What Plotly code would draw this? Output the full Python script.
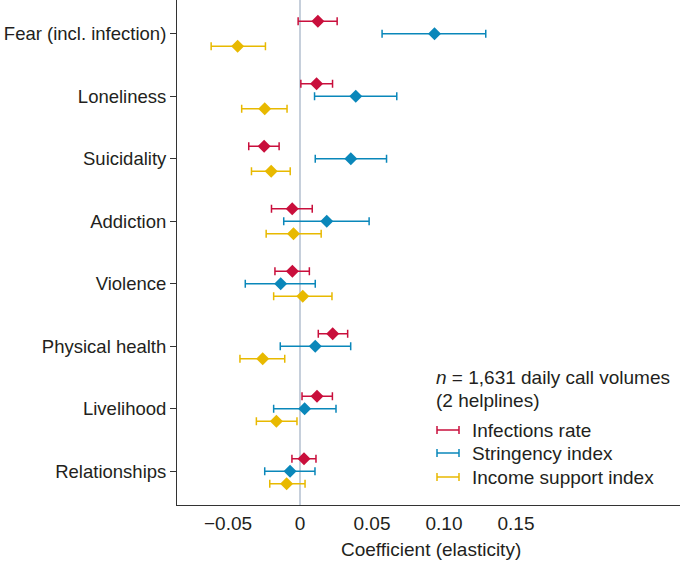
import plotly.graph_objects as go

categories = ["Fear (incl. infection)", "Loneliness", "Suicidality", "Addiction",
              "Violence", "Physical health", "Livelihood", "Relationships"]

series_names = ["Infections rate", "Stringency index", "Income support index"]

infections_est = [0.0124, 0.0115, -0.0249, -0.0054, -0.0053, 0.0227, 0.0118, 0.0028]
infections_lo = [-0.0013, 0.0006, -0.0356, -0.0198, -0.0174, 0.0127, 0.0014, -0.0056]
infections_hi = [0.0258, 0.0226, -0.0145, 0.0085, 0.0065, 0.0331, 0.0225, 0.0111]

stringency_est = [0.0934, 0.0387, 0.0353, 0.0186, -0.0134, 0.0106, 0.0032, -0.0069]
stringency_lo = [0.0570, 0.0101, 0.0106, -0.0113, -0.0380, -0.0137, -0.0183, -0.0245]
stringency_hi = [0.1290, 0.0672, 0.0601, 0.0480, 0.0106, 0.0352, 0.0250, 0.0104]

income_est = [-0.0433, -0.0245, -0.0200, -0.0045, 0.0019, -0.0259, -0.0164, -0.0093]
income_lo = [-0.0617, -0.0405, -0.0337, -0.0235, -0.0183, -0.0417, -0.0303, -0.0210]
income_hi = [-0.0240, -0.0090, -0.0068, 0.0147, 0.0222, -0.0106, -0.0021, 0.0035]

x_tick_vals = [-0.05, 0, 0.05, 0.10, 0.15]
x_tick_text = ["\u22120.05", "0", "0.05", "0.10", "0.15"]

colors = ["#c90f3c", "#0a87ba", "#e8b900"]
offsets = [-0.2, 0.0, 0.2]

W, H = 685, 565
ML, MR, MT, MB = 177, 5, 0, 60
PW, PH = W - ML - MR, H - MT - MB
FONT = "Liberation Sans, Arial, Helvetica, sans-serif"
TXT = "#231f20"
FS = 19
FSY = 18.5

fig = go.Figure()
data = [(infections_est, infections_lo, infections_hi),
        (stringency_est, stringency_lo, stringency_hi),
        (income_est, income_lo, income_hi)]
for name, (est, lo, hi), col, off in zip(series_names, data, colors, offsets):
    fig.add_trace(go.Scatter(
        x=est,
        y=[i + off for i in range(len(categories))],
        mode="markers",
        name=name,
        showlegend=False,
        hoverinfo="skip",
        marker=dict(symbol="diamond", size=10, color=col),
        error_x=dict(type="data", symmetric=False,
                     array=[h - e for h, e in zip(hi, est)],
                     arrayminus=[e - l for e, l in zip(est, lo)],
                     color=col, thickness=1.5, width=4),
    ))

x_left = (ML - 300) / 1440
x_right = (W - MR - 300) / 1440

fig.update_layout(
    width=W, height=H,
    margin=dict(l=ML, r=MR, t=MT, b=MB, pad=0),
    paper_bgcolor="white", plot_bgcolor="white",
    font=dict(family=FONT, size=FS, color=TXT),
    xaxis=dict(range=[x_left, x_right], tickvals=x_tick_vals, ticktext=x_tick_text,
               showgrid=False, zeroline=True, zerolinecolor="#c6cfdb", zerolinewidth=2,
               showline=True, linecolor="#333333", linewidth=1, automargin=False,
               ticks="outside", ticklen=1, tickcolor="rgba(0,0,0,0)",
               tickfont=dict(size=FS, color=TXT)),
    yaxis=dict(range=[7.54, -0.54], tickvals=list(range(len(categories))),
               ticktext=categories, showgrid=False, zeroline=False, automargin=False,
               showline=True, linecolor="#333333", linewidth=1,
               ticks="outside", ticklen=6, tickcolor="#333333",
               tickfont=dict(size=FSY, color=TXT)),
)

def px(xp):
    return (xp - ML) / PW

def py(yp):
    return (H - MB - yp) / PH

# x-axis title
fig.add_annotation(x=px(431), y=py(549), xref="paper", yref="paper",
                   text="Coefficient (elasticity)", showarrow=False,
                   xanchor="center", yanchor="middle", font=dict(size=FS, color=TXT))

# annotation text (n)
fig.add_annotation(x=px(434), y=py(377), xref="paper", yref="paper",
                   text="<i>n</i> = 1,631 daily call volumes", showarrow=False,
                   xanchor="left", yanchor="middle", font=dict(size=FS, color=TXT))
fig.add_annotation(x=px(434), y=py(400), xref="paper", yref="paper",
                   text="(2 helplines)", showarrow=False,
                   xanchor="left", yanchor="middle", font=dict(size=FS, color=TXT))

# custom legend
leg_y = [430, 453, 477]
for name, col, ly in zip(series_names, colors, leg_y):
    fig.add_shape(type="line", xref="paper", yref="paper",
                  x0=px(437), x1=px(459), y0=py(ly), y1=py(ly),
                  line=dict(color=col, width=1.5))
    for ex in (437, 459):
        fig.add_shape(type="line", xref="paper", yref="paper",
                      x0=px(ex), x1=px(ex), y0=py(ly - 4), y1=py(ly + 4),
                      line=dict(color=col, width=1.5))
    fig.add_annotation(x=px(470), y=py(ly), xref="paper", yref="paper",
                       text=name, showarrow=False, xanchor="left", yanchor="middle",
                       font=dict(size=FS, color=TXT))

fig.write_html("out.html", config={"displayModeBar": False},
               post_script="document.body.style.margin='0';")
